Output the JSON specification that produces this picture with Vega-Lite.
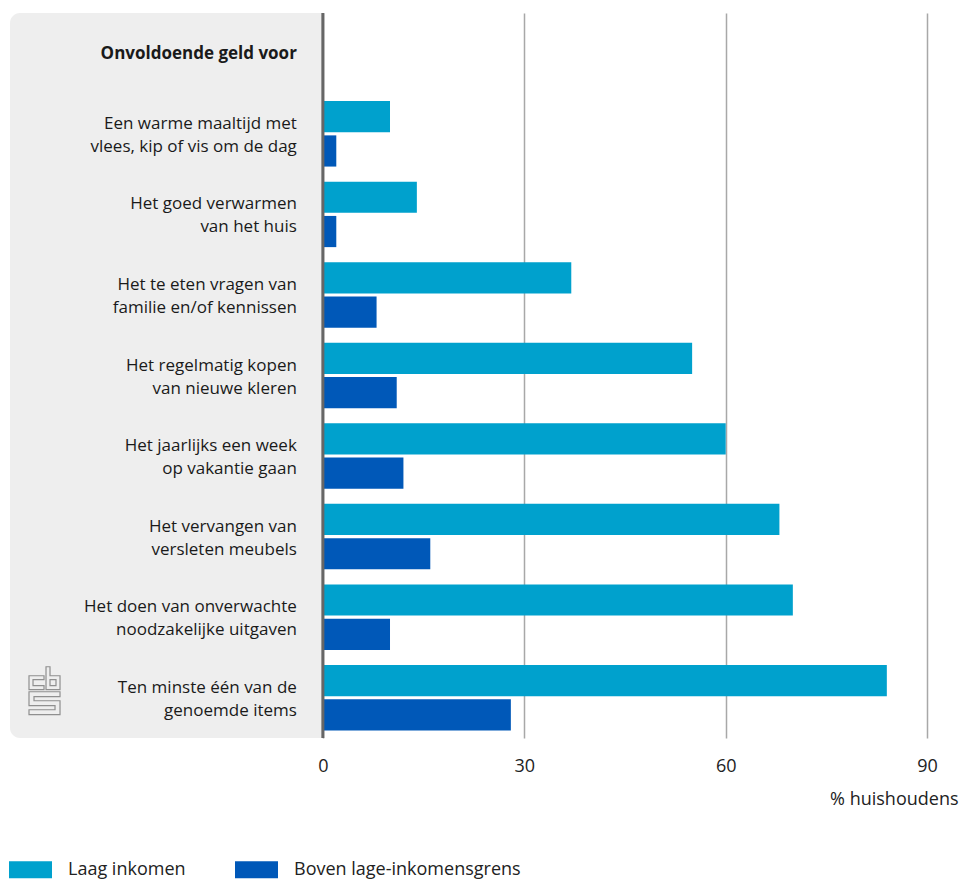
{
  "$schema": "https://vega.github.io/schema/vega-lite/v6.json",
  "autosize": {"type": "none"},
  "width": 948,
  "height": 725,
  "padding": {"left": 10, "top": 13, "right": 3, "bottom": 141},
  "background": "white",
  "config": {
    "font": "Open Sans",
    "view": {"stroke": null}
  },
  "datasets": {
    "bars": [
      {"cat": "Een warme maaltijd met|vlees, kip of vis om de dag", "groep": "Laag inkomen", "pct": 10},
      {"cat": "Een warme maaltijd met|vlees, kip of vis om de dag", "groep": "Boven lage-inkomensgrens", "pct": 2},
      {"cat": "Het goed verwarmen|van het huis", "groep": "Laag inkomen", "pct": 14},
      {"cat": "Het goed verwarmen|van het huis", "groep": "Boven lage-inkomensgrens", "pct": 2},
      {"cat": "Het te eten vragen van|familie en/of kennissen", "groep": "Laag inkomen", "pct": 37},
      {"cat": "Het te eten vragen van|familie en/of kennissen", "groep": "Boven lage-inkomensgrens", "pct": 8},
      {"cat": "Het regelmatig kopen|van nieuwe kleren", "groep": "Laag inkomen", "pct": 55},
      {"cat": "Het regelmatig kopen|van nieuwe kleren", "groep": "Boven lage-inkomensgrens", "pct": 11},
      {"cat": "Het jaarlijks een week|op vakantie gaan", "groep": "Laag inkomen", "pct": 60},
      {"cat": "Het jaarlijks een week|op vakantie gaan", "groep": "Boven lage-inkomensgrens", "pct": 12},
      {"cat": "Het vervangen van|versleten meubels", "groep": "Laag inkomen", "pct": 68},
      {"cat": "Het vervangen van|versleten meubels", "groep": "Boven lage-inkomensgrens", "pct": 16},
      {"cat": "Het doen van onverwachte|noodzakelijke uitgaven", "groep": "Laag inkomen", "pct": 70},
      {"cat": "Het doen van onverwachte|noodzakelijke uitgaven", "groep": "Boven lage-inkomensgrens", "pct": 10},
      {"cat": "Ten minste één van de|genoemde items", "groep": "Laag inkomen", "pct": 84},
      {"cat": "Ten minste één van de|genoemde items", "groep": "Boven lage-inkomensgrens", "pct": 28}
    ],
    "labels": [
      {"cat": "Onvoldoende geld voor"},
      {"cat": "Een warme maaltijd met|vlees, kip of vis om de dag"},
      {"cat": "Het goed verwarmen|van het huis"},
      {"cat": "Het te eten vragen van|familie en/of kennissen"},
      {"cat": "Het regelmatig kopen|van nieuwe kleren"},
      {"cat": "Het jaarlijks een week|op vakantie gaan"},
      {"cat": "Het vervangen van|versleten meubels"},
      {"cat": "Het doen van onverwachte|noodzakelijke uitgaven"},
      {"cat": "Ten minste één van de|genoemde items"}
    ]
  },
  "layer": [
    {
      "data": {"values": [{}]},
      "mark": {"type": "rect", "color": "#eeeeee", "cornerRadiusTopLeft": 10, "cornerRadiusBottomLeft": 10},
      "encoding": {
        "x": {"datum": -46.6, "type": "quantitative", "scale": {"domain": [-46.6, 94.6], "nice": false, "zero": false}},
        "x2": {"datum": 0}
      }
    },
    {
      "data": {"name": "bars"},
      "mark": {"type": "bar"},
      "encoding": {
        "y": {
          "field": "cat", "type": "nominal",
          "scale": {"domain": ["Onvoldoende geld voor", "Een warme maaltijd met|vlees, kip of vis om de dag", "Het goed verwarmen|van het huis", "Het te eten vragen van|familie en/of kennissen", "Het regelmatig kopen|van nieuwe kleren", "Het jaarlijks een week|op vakantie gaan", "Het vervangen van|versleten meubels", "Het doen van onverwachte|noodzakelijke uitgaven", "Ten minste één van de|genoemde items"], "paddingInner": 0, "paddingOuter": 0},
          "axis": null
        },
        "yOffset": {
          "field": "groep", "type": "nominal",
          "scale": {"domain": ["Laag inkomen", "Boven lage-inkomensgrens"], "paddingInner": 0.09, "paddingOuter": 0.22}
        },
        "x": {
          "field": "pct", "type": "quantitative",
          "axis": {
            "values": [0, 30, 60, 90],
            "grid": true, "gridColor": "#a8a8a8", "gridWidth": 1.5,
            "domain": false, "ticks": false,
            "labelFontSize": 18, "labelColor": "#222222", "labelPadding": 19,
            "title": "% huishoudens", "titleFontSize": 18, "titleFontWeight": "normal", "titleColor": "#222222",
            "titleAnchor": "end", "titleAlign": "right", "titlePadding": 15
          }
        },
        "color": {
          "field": "groep", "type": "nominal",
          "scale": {"domain": ["Laag inkomen", "Boven lage-inkomensgrens"], "range": ["#00a1cd", "#0058b8"]},
          "legend": {
            "title": null, "orient": "none", "direction": "horizontal",
            "legendX": -1, "legendY": 835,
            "symbolType": "M-1,-0.4H1V0.4H-1Z", "symbolSize": 1849, "symbolStrokeWidth": 0, "symbolOpacity": 1,
            "labelFontSize": 18, "labelColor": "#222222", "labelOffset": 16, "columnPadding": 49, "labelLimit": 400
          }
        }
      }
    },
    {
      "data": {"values": [{}]},
      "mark": {"type": "rule", "color": "#666666", "strokeWidth": 3},
      "encoding": {"x": {"datum": 0}}
    },
    {
      "data": {"values": [{"cat": "Ten minste één van de|genoemde items"}]},
      "mark": {
        "type": "point", "filled": false, "stroke": "#8f8f8f", "strokeWidth": 1.2, "opacity": 1, "size": 2209, "yOffset": -7,
        "shape": "M-0.021,-0.638H-0.66V-0.043H-0.021V-0.213H-0.489V-0.468H-0.021Z M0.064,-1.021H0.234V-0.638H0.66V-0.043H0.064Z M0.234,-0.468H0.489V-0.213H0.234Z M0.66,0.043H-0.66V0.638H0.447V0.809H-0.66V1.021H0.66V0.426H-0.447V0.255H0.66Z"
      },
      "encoding": {
        "x": {"datum": -41.46},
        "y": {"field": "cat", "type": "nominal"}
      }
    },
    {
      "data": {"name": "labels"},
      "transform": [{"filter": "datum.cat != 'Onvoldoende geld voor'"}],
      "mark": {"type": "text", "align": "right", "baseline": "middle", "dx": -26, "dy": -10, "lineBreak": "|", "lineHeight": 23, "fontSize": 17, "color": "#1a1a1a"},
      "encoding": {
        "x": {"datum": 0},
        "y": {"field": "cat", "type": "nominal"},
        "text": {"field": "cat"}
      }
    },
    {
      "data": {"name": "labels"},
      "transform": [{"filter": "datum.cat == 'Onvoldoende geld voor'"}],
      "mark": {"type": "text", "align": "right", "baseline": "middle", "dx": -26, "dy": 1, "fontSize": 17, "fontWeight": "bold", "color": "#1a1a1a"},
      "encoding": {
        "x": {"datum": 0},
        "y": {"field": "cat", "type": "nominal"},
        "text": {"field": "cat"}
      }
    }
  ]
}
